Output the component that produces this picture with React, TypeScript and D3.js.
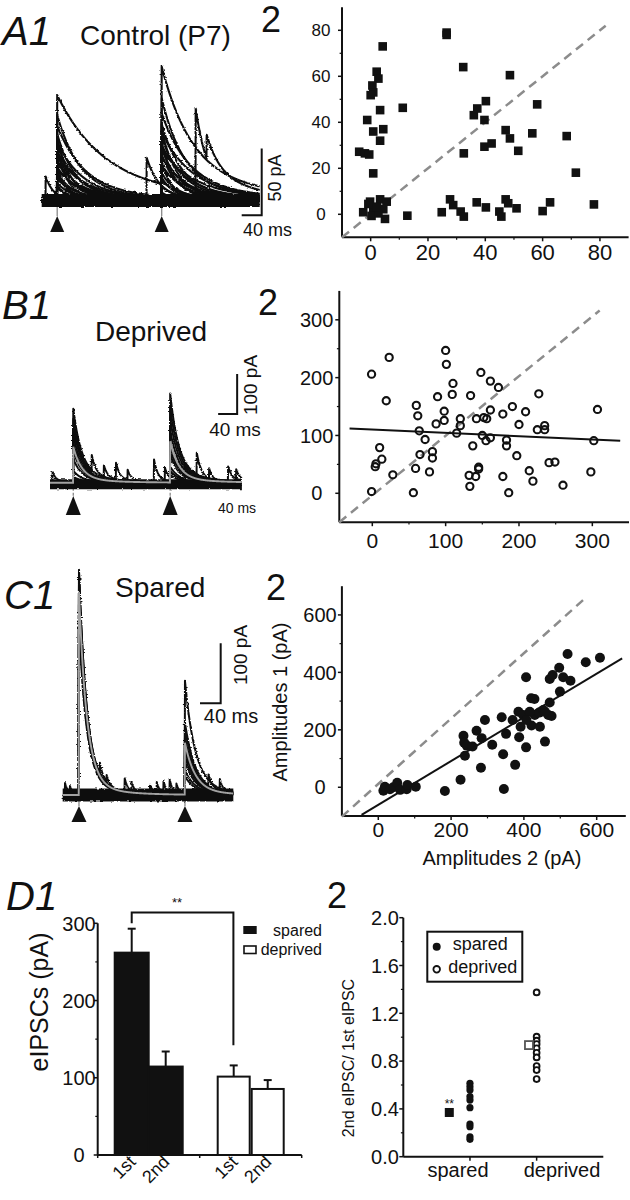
import React from 'react';
import * as d3 from 'd3';

const FONT = '"Liberation Sans", Arial, Helvetica, sans-serif';

// ---------------- A: Control (P7) ----------------
// A2 scatter: [amplitude 2, amplitude 1] (pA)
const controlPoints: [number, number][] = [
  [26.5, 79], [26.5, 78], [4.2, 73], [32.3, 64], [48.6, 60.5], [2.1, 62], [2.7, 59], [0.6, 56], [0.9, 53], [0, 51.8],
  [11.2, 46.3], [3.3, 45.3], [-1.2, 41], [4.4, 37], [0.9, 36], [3.3, 32], [-4, 27.2], [-2, 26.5], [-0.5, 26], [0.9, 17.8],
  [-0.2, 5.5], [3.3, 6.5], [5.6, 5.5], [0.9, 2.6], [4.4, 2.2], [-2.6, 0.9], [5, -2], [0.3, -0.7], [2.7, 0.4], [-0.8, 4.5], [2.1, 3.3],
  [12.8, -0.6], [24.8, 0.9], [27.7, 6.5], [28.8, 4], [31.4, 1.2], [32.5, -1], [37, 5.2], [40.2, 3], [44.9, 1.2], [45.6, -1],
  [47.1, 6.5], [48, 4.8], [50.9, 2.6], [60, 1.4], [62.6, 5.2], [77.9, 4.3],
  [36, 43.1], [37.2, 46], [40.2, 49.2], [39.7, 41], [39.7, 29.4], [42.2, 30.8], [32.5, 26.5], [47.1, 36.6], [48.6, 33],
  [51.5, 27.6], [58.1, 47.8], [56.4, 35.2], [68.4, 34], [71.6, 18.1],
];
const controlIdentity: [number, number][] = [[-10, -10], [82, 82]];
const controlTicks = [0, 20, 40, 60, 80];
const controlMinor = [10, 30, 50, 70];

// A1 traces (pA, ms)
const controlStims = [31, 240];
const controlAmp1 = [79, 64, 56, 50, 47, 44, 41, 39, 37, 35, 33, 31, 29, 27, 25, 23, 21, 19, 16, 13, 10, 6, 3, 0];
const controlTau1 = [95, 45, 55, 35, 25, 50, 40, 20, 45, 35, 55, 30, 45, 15, 40, 50, 30, 25, 40, 30, 20, 30, 30, 30];
const controlAmp2 = [88, 74, 62, 56, 52, 49, 46, 43, 40, 38, 36, 34, 32, 29, 26, 23, 20, 17, 14, 10, 6, 3, 0, 0];
const controlTau2 = [60, 45, 55, 40, 30, 60, 40, 25, 50, 35, 65, 30, 45, 20, 40, 55, 30, 25, 40, 30, 20, 30, 30, 30];
// [sweep, time, amplitude, tau]
const controlSpont: [number, number, number, number][] = [
  [21, 8, 18, 15], [22, 210, 32, 25], [23, 308, 69, 25], [23, 330, 18, 80],
];

// ---------------- B: Deprived ----------------
const deprivedPoints: [number, number][] = [
  [-1, 206], [23, 235], [100, 247], [101, 223], [148, 209], [161, 194], [172, 183], [110, 190], [109, 171], [89, 167],
  [134, 169], [227, 172], [19, 160], [60, 152], [62, 134], [98, 142], [98, 126], [87, 120], [120, 129], [120, 117],
  [115, 104], [64, 108], [72, 93], [142, 129], [152, 131], [156, 129], [161, 144], [178, 137], [191, 150], [209, 141],
  [200, 119], [150, 100], [161, 96], [155, 91], [183, 92], [183, 82], [225, 110], [235, 117], [235, 110], [302, 91],
  [307, 145], [10, 79], [13, 59], [5, 51], [4, 46], [28, 32], [-1, 3], [56, 1], [59, 43], [65, 67],
  [82, 72], [82, 61], [78, 37], [137, 82], [145, 45], [145, 42], [132, 31], [133, 12], [141, 29], [178, 29],
  [186, 1], [197, 65], [214, 39], [219, 21], [241, 53], [249, 54], [260, 14], [298, 37],
];
const deprivedFit: [number, number][] = [[-31, 112], [338, 91]];
const deprivedIdentity: [number, number][] = [[-45, -50], [310, 316]];
const deprivedTicks = [0, 100, 200, 300];
const deprivedMinor = [50, 150, 250];

const deprivedStims = [49, 253];
const deprivedAmp1 = [184, 160, 140, 120, 100, 80, 60, 30, 15, 10];
const deprivedAmp2 = [222, 190, 160, 130, 100, 80, 60, 40, 30, 20];
const deprivedTau = [18, 18];
const deprivedSpont: [number, number, number, number][] = [
  [0, 5.5, 27, 8], [1, 88, 42, 8], [2, 113.5, 33, 8], [3, 139, 45, 8], [4, 163.5, 30, 8], [5, 219, 57, 8],
  [6, 242, 37, 8], [7, 284, 40, 8], [8, 309, 72, 10], [9, 335, 35, 8], [0, 375, 35, 8], [1, 392, 30, 8],
];

// ---------------- C: Spared ----------------
const sparedPoints: [number, number][] = [
  [14, -12], [18, 2], [32, -7], [41, 0], [52, 16], [60, -9], [78, -7], [80, 8], [103, 2], [183, -13],
  [226, 26], [345, -6], [234, 179], [236, 155], [243, 145], [259, 142], [238, 110], [270, 197], [284, 171], [293, 234],
  [282, 68], [313, 148], [339, 244], [351, 186], [343, 115], [376, 78], [369, 234], [387, 174], [391, 211], [385, 263],
  [398, 252], [406, 139], [406, 383], [420, 310], [429, 307], [421, 215], [430, 252], [444, 211], [442, 260], [458, 159],
  [453, 269], [467, 252], [471, 295], [476, 248], [471, 377], [479, 391], [499, 333], [497, 416], [508, 383], [528, 371],
  [520, 464], [570, 435], [609, 451], [458, 263], [416, 263], [407, 234],
];
const sparedFit: [number, number][] = [[-46, -96], [670, 449]];
const sparedIdentity: [number, number][] = [[-100, -102], [563, 652]];
const sparedTicks = [0, 200, 400, 600];
const sparedMinor = [100, 300, 500];

const sparedStims = [31.5, 236.5];
const sparedAmp1 = [375, 370, 362, 355, 348, 340, 330, 318, 300, 285];
const sparedAmp2 = [188, 120, 110, 95, 85, 75, 65, 55, 40, 30];
const sparedTau = [15, 20];
const sparedSpont: [number, number, number, number][] = [
  [0, 4.5, 20, 6], [1, 14, 15, 6], [2, 72, 20, 6], [3, 85, 15, 6], [4, 120, 22, 6], [5, 133, 18, 6],
  [6, 169, 15, 6], [7, 182, 20, 6], [8, 195, 22, 6], [9, 207, 25, 6], [0, 220, 18, 6], [1, 282, 18, 6], [2, 304, 20, 6],
];

// ---------------- D ----------------
const barLabels = ['1st', '2nd', '1st', '2nd'];
const barGroups = ['spared', 'spared', 'deprived', 'deprived'];
const barMeans = [262, 114.5, 101.5, 85.5];
const barErrors = [31, 19.5, 14.5, 11.5];
const barTicks = [0, 100, 200, 300];
const barMinor = [50, 150, 250];

const ratioCategories = ['spared', 'deprived'];
const sparedRatios = [0.614, 0.586, 0.558, 0.502, 0.474, 0.41, 0.273, 0.251, 0.167, 0.145];
const deprivedRatios = [1.375, 1.004, 0.971, 0.943, 0.907, 0.87, 0.831, 0.759, 0.725, 0.65];
const ratioMeans = [0.37, 0.934];
const ratioTicks = [0, 0.4, 0.8, 1.2, 1.6, 2.0];
const ratioMinor = [0.2, 0.6, 1.0, 1.4, 1.8];

// ---------------- helpers ----------------
type Ev = [number, number, number];

function sweep(events: Ev[], tEnd: number, slow: number): [number, number][] {
  const pts: [number, number][] = [];
  for (let t = 0; t <= tEnd + 1e-9; t += 0.5) {
    let v = 0;
    for (const [t0, a, tau] of events) {
      if (t >= t0) {
        const s = t - t0;
        v += a * ((1 - slow) * Math.exp(-s / tau) + slow * Math.exp(-s / (tau * 4)));
      }
    }
    pts.push([t, v]);
  }
  return pts;
}

function buildSweeps(stims: number[], amp1: number[], tau1: number[], amp2: number[], tau2: number[], spont: [number, number, number, number][]) {
  const evoked: Ev[][] = amp1.map((a, i) => [[stims[0], a, tau1[i]], [stims[1], amp2[i], tau2[i]]]);
  const all: Ev[][] = evoked.map((e, i) => [...e, ...spont.filter(s => s[0] === i).map(s => [s[1], s[2], s[3]] as Ev)]);
  return { evoked, all };
}

type Lin = d3.ScaleLinear<number, number>;

function TracePanel(props: {
  id: string; xs: Lin; ys: Lin; tEnd: number; stims: number[]; all: Ev[][]; evoked: Ev[][];
  slow: number; bandWidth: number; bandOffset: number; sweepWidth: number; mean: boolean;
  arrowTop: number; arrowH: number; arrowW: number; dashedArtifact?: boolean;
}) {
  const { id, xs, ys, tEnd, stims, all, evoked, slow, bandWidth, bandOffset, sweepWidth, mean, arrowTop, arrowH, arrowW, dashedArtifact } = props;
  const line = d3.line<[number, number]>().x(d => xs(d[0])).y(d => ys(d[1]));
  const sweeps = all.map(ev => sweep(ev, tEnd, slow));
  let meanPts: [number, number][] = [];
  if (mean) {
    const ev = evoked.map(e => sweep(e, tEnd, slow));
    meanPts = ev[0].map((p, k) => [p[0], d3.mean(ev, s => s[k][1]) as number]);
  }
  const y0 = ys(0);
  return (
    <g>
      <defs>
        <filter id={id} x="-5%" y="-20%" width="110%" height="140%">
          <feTurbulence type="fractalNoise" baseFrequency="0.3 0.7" numOctaves={1} seed={5} result="n" />
          <feDisplacementMap in="SourceGraphic" in2="n" scale={3} xChannelSelector="R" yChannelSelector="G" />
        </filter>
      </defs>
      {stims.map((s, i) => (
        <line key={'art' + i} x1={xs(s)} x2={xs(s)} y1={y0} y2={arrowTop} stroke="#888" strokeWidth={1.3}
          strokeDasharray={dashedArtifact ? '3 2' : undefined} />
      ))}
      <g filter={`url(#${id})`}>
        <line x1={xs(0)} x2={xs(tEnd)} y1={y0 + bandOffset} y2={y0 + bandOffset} stroke="#111" strokeWidth={bandWidth} />
        {sweeps.map((p, i) => (
          <path key={i} d={line(p) || ''} fill="none" stroke="#111" strokeWidth={sweepWidth} strokeLinejoin="round" />
        ))}
      </g>
      {mean && <path d={line(meanPts) || ''} fill="none" stroke="#a2a2a2" strokeWidth={1.9} />}
      {stims.map((s, i) => (
        <path key={'arr' + i}
          d={`M${xs(s)},${arrowTop} L${xs(s) + arrowW / 2},${arrowTop + arrowH} L${xs(s) - arrowW / 2},${arrowTop + arrowH} Z`}
          fill="#111" />
      ))}
    </g>
  );
}

function AxisLeft(props: { scale: Lin; x: number; major: number[]; minor: number[]; labelX: number; fontSize: number; fmt?: (v: number) => string; tick?: number }) {
  const { scale, x, major, minor, labelX, fontSize, fmt, tick = 4 } = props;
  const [r0, r1] = scale.range();
  return (
    <g>
      <line x1={x} x2={x} y1={r0} y2={r1} stroke="#111" strokeWidth={2} />
      {major.map(v => <line key={'M' + v} x1={x - tick} x2={x} y1={scale(v)} y2={scale(v)} stroke="#111" strokeWidth={1.5} />)}
      {minor.map(v => <line key={'m' + v} x1={x - tick * 0.6} x2={x} y1={scale(v)} y2={scale(v)} stroke="#111" strokeWidth={1.2} />)}
      {major.map(v => (
        <text key={'t' + v} x={labelX} y={scale(v) + fontSize * 0.36} fontSize={fontSize} textAnchor="middle" fontFamily={FONT} fill="#111">
          {fmt ? fmt(v) : String(v)}
        </text>
      ))}
    </g>
  );
}

function AxisBottom(props: { scale: Lin; y: number; major: number[]; minor: number[]; labelY: number; fontSize: number; tick?: number }) {
  const { scale, y, major, minor, labelY, fontSize, tick = 4 } = props;
  const [r0, r1] = scale.range();
  return (
    <g>
      <line x1={r0} x2={r1} y1={y} y2={y} stroke="#111" strokeWidth={2} />
      {major.map(v => <line key={'M' + v} x1={scale(v)} x2={scale(v)} y1={y} y2={y + tick} stroke="#111" strokeWidth={1.5} />)}
      {minor.map(v => <line key={'m' + v} x1={scale(v)} x2={scale(v)} y1={y} y2={y + tick * 0.6} stroke="#111" strokeWidth={1.2} />)}
      {major.map(v => (
        <text key={'t' + v} x={scale(v)} y={labelY} fontSize={fontSize} textAnchor="middle" fontFamily={FONT} fill="#111">{v}</text>
      ))}
    </g>
  );
}

function T(props: { x: number; y: number; size: number; children: React.ReactNode; anchor?: string; italic?: boolean; rotate?: number }) {
  const { x, y, size, children, anchor = 'start', italic, rotate } = props;
  return (
    <text transform={`translate(${x},${y})${rotate ? ` rotate(${rotate})` : ''}`} fontSize={size} fontFamily={FONT}
      textAnchor={anchor} fontStyle={italic ? 'italic' : 'normal'} fill="#111">{children}</text>
  );
}

export default function App() {
  // ----- scales A -----
  const xA2 = d3.scaleLinear().domain([-10, 90]).range([342, 628.6]);
  const yA2 = d3.scaleLinear().domain([-10, 90]).range([237.3, 7.3]);
  const xA1 = d3.scaleLinear().domain([0, 440]).range([41.7, 261.7]);
  const yA1 = d3.scaleLinear().domain([0, 80]).range([200.5, 93.8]);
  const A = buildSweeps(controlStims, controlAmp1, controlTau1, controlAmp2, controlTau2, controlSpont);

  // ----- scales B -----
  const xB2 = d3.scaleLinear().domain([-45, 350]).range([339.3, 629]);
  const yB2 = d3.scaleLinear().domain([-50, 350]).range([522.2, 290.9]);
  const xB1 = d3.scaleLinear().domain([0, 404]).range([50, 241.9]);
  const yB1 = d3.scaleLinear().domain([0, 200]).range([482.7, 402.7]);
  const B = buildSweeps(deprivedStims, deprivedAmp1, deprivedAmp1.map(() => deprivedTau[0]), deprivedAmp2, deprivedAmp2.map(() => deprivedTau[1]), deprivedSpont);

  // ----- scales C -----
  const xC2 = d3.scaleLinear().domain([-100, 680]).range([341.9, 625.8]);
  const yC2 = d3.scaleLinear().domain([-100, 700]).range([816.0, 586.2]);
  const xC1 = d3.scaleLinear().domain([0, 330]).range([62.7, 233.3]);
  const yC1 = d3.scaleLinear().domain([0, 100]).range([795, 735]);
  const C = buildSweeps(sparedStims, sparedAmp1, sparedAmp1.map(() => sparedTau[0]), sparedAmp2, sparedAmp2.map(() => sparedTau[1]), sparedSpont);

  // ----- scales D -----
  const xD1 = d3.scaleLinear().domain([0, 6]).range([97.7, 301.7]);
  const yD1 = d3.scaleLinear().domain([0, 300]).range([1155, 923.3]);
  const xD2 = d3.scaleLinear().domain([0, 3]).range([403.3, 603.3]);
  const yD2 = d3.scaleLinear().domain([0, 2]).range([1156.7, 917.7]);

  const lineA2 = d3.line<[number, number]>().x(d => xA2(d[0])).y(d => yA2(d[1]));
  const lineB2 = d3.line<[number, number]>().x(d => xB2(d[0])).y(d => yB2(d[1]));
  const lineC2 = d3.line<[number, number]>().x(d => xC2(d[0])).y(d => yC2(d[1]));

  const barPos = barGroups.map((g, i) => i + 1 + (g === 'deprived' ? 1 : 0));
  const bw = xD1(1) - xD1(0);

  return (
    <svg width={630} height={1200} viewBox="0 0 630 1200" style={{ position: 'absolute', left: 0, top: 0, background: '#fff' }}>
      <rect x={0} y={0} width={630} height={1200} fill="#fff" />

      {/* ================= A ================= */}
      <T x={2} y={45} size={40} italic>A1</T>
      <T x={80} y={45} size={28}>Control (P7)</T>
      <T x={261} y={32} size={36}>2</T>
      <TracePanel id="nA" xs={xA1} ys={yA1} tEnd={436} stims={controlStims} all={A.all} evoked={A.evoked} slow={0.1}
        bandWidth={13} bandOffset={0} sweepWidth={2.1} mean={false} arrowTop={216} arrowH={16} arrowW={14} />
      {/* scale bar A: 40 ms x 50 pA */}
      <path d={`M${xA1(400)},${yA1(-11)} L${xA1(440)},${yA1(-11)} L${xA1(440)},${yA1(39)}`} fill="none" stroke="#111" strokeWidth={2} />
      <T x={281} y={178} size={18} anchor="middle" rotate={-90}>50 pA</T>
      <T x={243} y={236} size={18}>40 ms</T>

      <AxisLeft scale={yA2} x={342} major={controlTicks} minor={controlMinor} labelX={321} fontSize={17} />
      <AxisBottom scale={xA2} y={237.3} major={controlTicks} minor={controlMinor} labelY={260} fontSize={22} />
      <path d={lineA2(controlIdentity) || ''} stroke="#8c8c8c" strokeWidth={2.5} strokeDasharray="9 6" fill="none" />
      {controlPoints.map((p, i) => (
        <rect key={i} x={xA2(p[0]) - 4.3} y={yA2(p[1]) - 4.3} width={8.6} height={8.6} fill="#111" />
      ))}

      {/* ================= B ================= */}
      <T x={2} y={319} size={40} italic>B1</T>
      <T x={95} y={341} size={28}>Deprived</T>
      <T x={258} y={315} size={36}>2</T>
      <TracePanel id="nB" xs={xB1} ys={yB1} tEnd={404} stims={deprivedStims} all={B.all} evoked={B.evoked} slow={0.12}
        bandWidth={10} bandOffset={1.5} sweepWidth={2} mean={true} arrowTop={496} arrowH={19} arrowW={15} dashedArtifact />
      {/* scale bar B: 40 ms x 100 pA */}
      <path d={`M${xB1(354)},${yB1(172)} L${xB1(394)},${yB1(172)} L${xB1(394)},${yB1(272)}`} fill="none" stroke="#111" strokeWidth={2} />
      <T x={257} y={385} size={19} anchor="middle" rotate={-90}>100 pA</T>
      <T x={235} y={436} size={19} anchor="middle">40 ms</T>
      <T x={237} y={513} size={14} anchor="middle">40 ms</T>

      <AxisLeft scale={yB2} x={339.3} major={deprivedTicks} minor={deprivedMinor} labelX={316.7} fontSize={20} />
      <AxisBottom scale={xB2} y={522.2} major={deprivedTicks} minor={deprivedMinor} labelY={548} fontSize={21} />
      <path d={lineB2(deprivedIdentity) || ''} stroke="#8c8c8c" strokeWidth={2.5} strokeDasharray="9 6" fill="none" />
      <path d={lineB2(deprivedFit) || ''} stroke="#111" strokeWidth={2} fill="none" />
      {deprivedPoints.map((p, i) => (
        <circle key={i} cx={xB2(p[0])} cy={yB2(p[1])} r={3.6} fill="none" stroke="#111" strokeWidth={2.1} />
      ))}

      {/* ================= C ================= */}
      <T x={4} y={609} size={40} italic>C1</T>
      <T x={115} y={597} size={28}>Spared</T>
      <T x={266} y={600} size={36}>2</T>
      <TracePanel id="nC" xs={xC1} ys={yC1} tEnd={330} stims={sparedStims} all={C.all} evoked={C.evoked} slow={0.06}
        bandWidth={13} bandOffset={0} sweepWidth={2} mean={true} arrowTop={806} arrowH={16} arrowW={15} />
      {/* scale bar C: 40 ms x 100 pA */}
      <path d={`M${xC1(265.6)},${yC1(153)} L${xC1(305.6)},${yC1(153)} L${xC1(305.6)},${yC1(253)}`} fill="none" stroke="#111" strokeWidth={2} />
      <T x={247} y={655} size={19} anchor="middle" rotate={-90}>100 pA</T>
      <T x={231} y={723} size={20} anchor="middle">40 ms</T>

      <AxisLeft scale={yC2} x={341.9} major={sparedTicks} minor={sparedMinor} labelX={320} fontSize={20} />
      <AxisBottom scale={xC2} y={816} major={sparedTicks} minor={sparedMinor} labelY={837} fontSize={21} />
      <path d={lineC2(sparedIdentity) || ''} stroke="#8c8c8c" strokeWidth={2.5} strokeDasharray="9 6" fill="none" />
      <path d={lineC2(sparedFit) || ''} stroke="#111" strokeWidth={2} fill="none" />
      {sparedPoints.map((p, i) => (
        <circle key={i} cx={xC2(p[0])} cy={yC2(p[1])} r={5} fill="#111" />
      ))}
      <T x={287} y={702} size={20} anchor="middle" rotate={-90}>Amplitudes 1 (pA)</T>
      <T x={502} y={865} size={20} anchor="middle">Amplitudes 2 (pA)</T>

      {/* ================= D1 ================= */}
      <T x={6} y={910} size={40} italic>D1</T>
      <AxisLeft scale={yD1} x={97.7} major={barTicks} minor={barMinor} labelX={79} fontSize={20} />
      <line x1={xD1(0)} x2={xD1(6)} y1={yD1(0)} y2={yD1(0)} stroke="#111" strokeWidth={2} />
      {[0, 3, 6].map(v => <line key={v} x1={xD1(v)} x2={xD1(v)} y1={yD1(0)} y2={yD1(0) + 3} stroke="#111" strokeWidth={1.5} />)}
      {barMeans.map((m, i) => {
        const cx = xD1(barPos[i]);
        const spared = barGroups[i] === 'spared';
        return (
          <g key={i}>
            <line x1={cx} x2={cx} y1={yD1(m)} y2={yD1(m + barErrors[i])} stroke="#111" strokeWidth={2} />
            <line x1={cx - 4} x2={cx + 4} y1={yD1(m + barErrors[i])} y2={yD1(m + barErrors[i])} stroke="#111" strokeWidth={2} />
            <rect x={cx - bw / 2 + (spared ? 0 : 1)} y={yD1(m)} width={bw - (spared ? 0 : 2)} height={yD1(0) - yD1(m)}
              fill={spared ? '#111' : '#fff'} stroke="#111" strokeWidth={2} />
            <T x={cx + 5} y={1163} size={18} anchor="end" rotate={-45}>{barLabels[i]}</T>
          </g>
        );
      })}
      {/* significance bracket */}
      <path d={`M${xD1(barPos[0])},${yD1(300)} L${xD1(barPos[0])},${yD1(314)} L${xD1(barPos[2]) - 0.3},${yD1(314)} L${xD1(barPos[2]) - 0.3},${yD1(142)}`}
        fill="none" stroke="#111" strokeWidth={2} />
      <T x={177} y={907} size={13} anchor="middle">**</T>
      {/* legend */}
      <rect x={243.3} y={926} width={13.4} height={8} fill="#111" />
      <rect x={244} y={946} width={12} height={7.5} fill="#fff" stroke="#111" strokeWidth={1.6} />
      <T x={322} y={936} size={16} anchor="end">spared</T>
      <T x={322} y={955} size={16} anchor="end">deprived</T>
      <T x={48} y={1002} size={25} anchor="middle" rotate={-90}>eIPSCs (pA)</T>

      {/* ================= D2 ================= */}
      <T x={327} y={908} size={36}>2</T>
      <AxisLeft scale={yD2} x={403.3} major={ratioTicks} minor={ratioMinor} labelX={385} fontSize={20} fmt={v => v.toFixed(1)} />
      <line x1={xD2(0)} x2={xD2(3)} y1={yD2(0)} y2={yD2(0)} stroke="#111" strokeWidth={2} />
      {[1, 2].map(v => <line key={v} x1={xD2(v)} x2={xD2(v)} y1={yD2(0)} y2={yD2(0) + 4} stroke="#111" strokeWidth={1.5} />)}
      <T x={458} y={1177} size={20} anchor="middle">{ratioCategories[0]}</T>
      <T x={562} y={1177} size={20} anchor="middle">{ratioCategories[1]}</T>
      {sparedRatios.map((v, i) => <circle key={'s' + i} cx={xD2(1)} cy={yD2(v)} r={3.6} fill="#111" />)}
      {deprivedRatios.map((v, i) => <circle key={'d' + i} cx={xD2(2)} cy={yD2(v)} r={2.9} fill="#fff" stroke="#111" strokeWidth={1.9} />)}
      <rect x={xD2(0.69) - 4.5} y={yD2(ratioMeans[0]) - 4.5} width={9} height={9} fill="#111" />
      <T x={xD2(0.69)} y={yD2(ratioMeans[0]) - 4} size={12} anchor="middle">**</T>
      <rect x={xD2(1.885) - 4} y={yD2(ratioMeans[1]) - 4} width={8} height={8} fill="#fff" stroke="#555" strokeWidth={1.8} />
      {/* legend */}
      <rect x={427.3} y={931.7} width={95} height={50} fill="#fff" stroke="#111" strokeWidth={2} />
      <circle cx={436.7} cy={946.7} r={4} fill="#111" />
      <circle cx={436.7} cy={969.3} r={3.3} fill="#fff" stroke="#111" strokeWidth={1.8} />
      <T x={452.7} y={950} size={18}>spared</T>
      <T x={448.3} y={973} size={18}>deprived</T>
      <T x={354} y={1058} size={16} anchor="middle" rotate={-90}>2nd eIPSC/ 1st eIPSC</T>
    </svg>
  );
}
